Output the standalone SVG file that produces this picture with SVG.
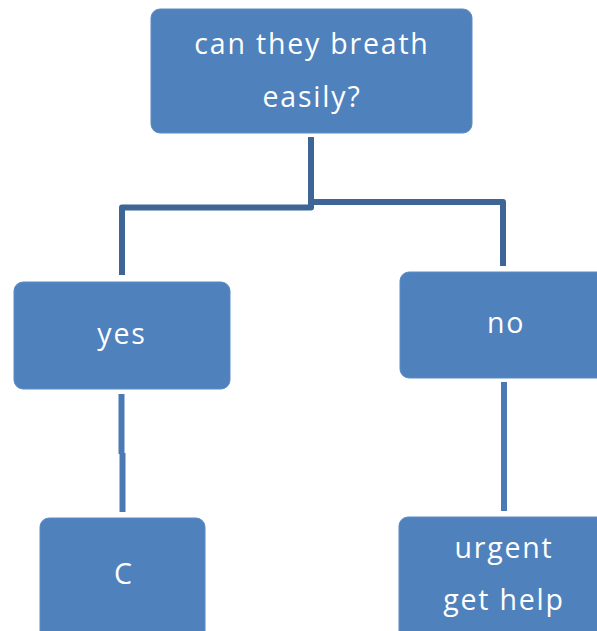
<svg xmlns="http://www.w3.org/2000/svg" width="597" height="631" viewBox="0 0 597 631">
<style>
.box{fill:#4F81BD;stroke:#5A8BC6;stroke-width:1}
.lbl{font-family:"Open Sans","Liberation Sans",sans-serif;font-size:28.5px;letter-spacing:1.8px;fill:#FFFFFF;text-anchor:middle}
.c1{fill:none;stroke:#3D6596;stroke-width:6;stroke-linejoin:round}
.c2{fill:none;stroke:#4A79B4;stroke-width:6}
</style>
<rect width="597" height="631" fill="#FFFFFF"/>
<g id="connectors">
<path class="c1" d="M311 137 V207.5 H122 V275"/>
<path class="c1" d="M311 202 H503 V266"/>
<path class="c2" d="M121.5 394 V454"/>
<path class="c2" d="M122.5 453 V512"/>
<path class="c2" d="M504 382 V511"/>
</g>
<g id="node-question">
<rect class="box" x="151" y="9" width="321" height="124" rx="9"/>
<text class="lbl" x="312" y="54">can they breath</text>
<text class="lbl" x="312" y="107">easily?</text>
</g>
<g id="node-yes">
<rect class="box" x="14" y="282" width="216" height="107" rx="9"/>
<text class="lbl" x="122" y="344">yes</text>
</g>
<g id="node-no">
<rect class="box" x="400" y="272" width="212" height="106" rx="9"/>
<text class="lbl" x="506" y="333">no</text>
</g>
<g id="node-c">
<rect class="box" x="40" y="518" width="165" height="124" rx="9"/>
<text class="lbl" x="124" y="584">C</text>
</g>
<g id="node-urgent">
<rect class="box" x="399" y="517" width="213" height="125" rx="9"/>
<text class="lbl" x="504" y="558">urgent</text>
<text class="lbl" x="504" y="610">get help</text>
</g>
</svg>
